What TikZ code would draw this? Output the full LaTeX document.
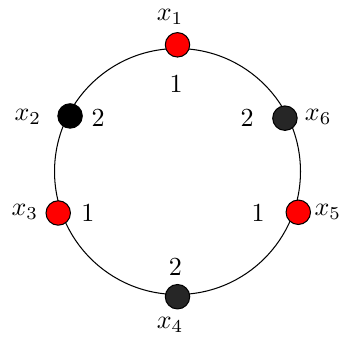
\documentclass[tikz,border=0pt]{standalone}
\begin{document}
\begin{tikzpicture}[vertex/.style={circle,draw,thin,minimum size=0.33cm,inner sep=0pt}]
	\useasboundingbox (-2.396,-2.275) rectangle (2.288,2.315);
	\draw (0,0) circle (1.66);
	\node[vertex,fill=red]      (x1) at (0,1.71)      {};
	\node[vertex,fill=black]    (x2) at (-1.45,0.75)  {};
	\node[vertex,fill=red]      (x3) at (-1.61,-0.56) {};
	\node[vertex,fill=black!85] (x4) at (0,-1.69)     {};
	\node[vertex,fill=red]      (x5) at (1.63,-0.55)  {};
	\node[vertex,fill=black!85] (x6) at (1.45,0.72)   {};
	% names
	\node (n1) at (-0.10,2.09)  {$x_1$};
	\node (n2) at (-2.02,0.74)  {$x_2$};
	\node (n3) at (-2.06,-0.55) {$x_3$};
	\node (n4) at (-0.10,-2.07) {$x_4$};
	\node (n5) at (2.03,-0.55)  {$x_5$};
	\node (n6) at (1.90,0.74)   {$x_6$};
	% weights
	\node (w1) at (-0.02,1.18)  {$1$};
	\node (w2) at (-1.07,0.72)  {$2$};
	\node (w3) at (-1.21,-0.56) {$1$};
	\node (w4) at (-0.03,-1.29) {$2$};
	\node (w5) at (1.09,-0.56)  {$1$};
	\node (w6) at (0.94,0.72)   {$2$};
\end{tikzpicture}
\end{document}
